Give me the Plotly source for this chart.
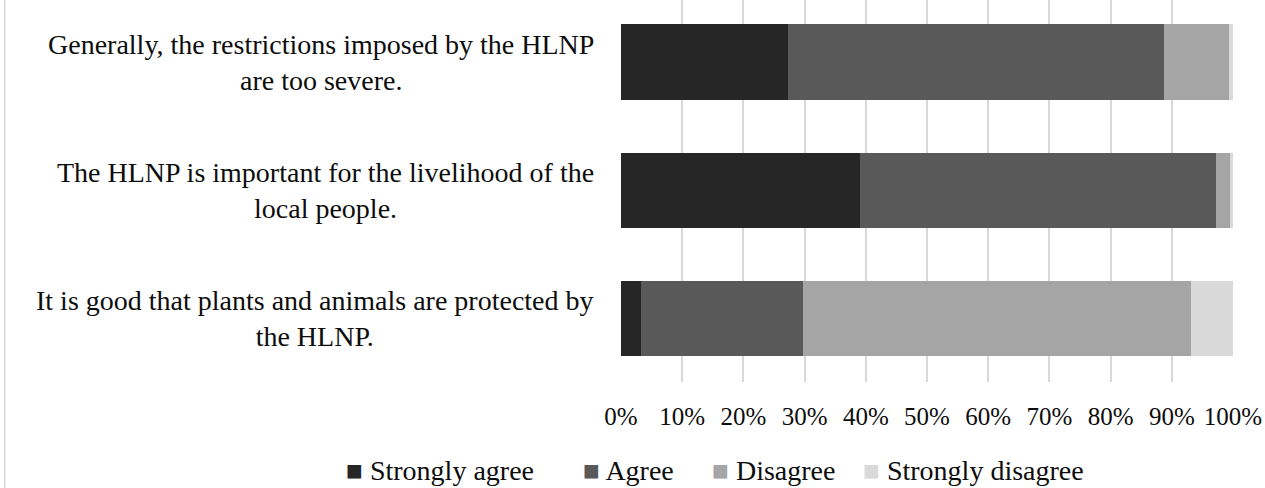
import plotly.graph_objects as go

statements = [
    "Generally, the restrictions imposed by the HLNP<br>are too severe.",
    "The HLNP is important for the livelihood of the<br>local people.",
    "It is good that plants and animals are protected by<br>the HLNP.",
]
responses = ["Strongly agree", "Agree", "Disagree", "Strongly disagree"]
colors = ["#262626", "#595959", "#a5a5a5", "#d9d9d9"]

# shares per statement (fraction of respondents)
strongly_agree = [0.273, 0.391, 0.033]
agree = [0.614, 0.582, 0.264]
disagree = [0.106, 0.022, 0.635]
strongly_disagree = [0.007, 0.005, 0.068]
series = [strongly_agree, agree, disagree, strongly_disagree]

FONT = '"Liberation Serif", "Times New Roman", serif'
W, H = 1265, 488
L, T = 620.5, 0
pw, ph = 1233.3 - 620.5, 382
R, B = W - L - pw, H - T - ph


def px_x(p):  # pixel -> paper x
    return (p - L) / pw


def px_y(p):  # pixel -> paper y
    return (T + ph - p) / ph


cats = list(range(len(statements)))

fig = go.Figure()
for name, vals, col in zip(responses, series, colors):
    fig.add_trace(go.Bar(y=cats, x=vals, name=name, orientation="h",
                         marker=dict(color=col, line=dict(width=0)),
                         showlegend=False, hoverinfo="x+name"))

# statement labels: right-aligned block, centred lines (like Excel)
for i, s in enumerate(statements):
    fig.add_annotation(x=px_x(595), xref="paper", y=i, yref="y", text=s,
                       showarrow=False, xanchor="right", align="center",
                       font=dict(family=FONT, size=28, color="#0d0d0d"))

# legend drawn as text with coloured squares
legend_x = [343, 580, 710, 861]
for name, col, lx in zip(responses, colors, legend_x):
    fig.add_annotation(x=px_x(lx), xref="paper", y=px_y(470), yref="paper",
                       text=f'<span style="color:{col}">■</span> {name}',
                       showarrow=False, xanchor="left", yanchor="middle",
                       font=dict(family=FONT, size=28, color="#0d0d0d"))

# faint chart-area border on the left
fig.add_shape(type="line", xref="paper", yref="paper",
              x0=px_x(3.5), x1=px_x(3.5), y0=px_y(H), y1=px_y(0),
              line=dict(color="#d9d9d9", width=1.5))

fig.update_layout(
    barmode="stack", bargap=0.415,
    width=W, height=H, margin=dict(l=L, r=R, t=T, b=B, autoexpand=False),
    paper_bgcolor="white", plot_bgcolor="white",
    font=dict(family=FONT, size=25, color="#0d0d0d"),
    xaxis=dict(range=[0, 1], tickvals=[i / 10 for i in range(11)],
               tickformat=".0%", showgrid=True, gridcolor="#d9d9d9",
               gridwidth=1.5, zeroline=False, showline=False,
               ticklabelstandoff=17, fixedrange=True),
    yaxis=dict(tickvals=cats, showticklabels=False,
               showgrid=False, zeroline=False, showline=False,
               range=[2.495, -0.4834]),
)

# drop the default 8px page margin so the figure fills the window exactly
fig.write_html("out.html", config={"displayModeBar": False},
               post_script="document.body.style.margin='0';")
